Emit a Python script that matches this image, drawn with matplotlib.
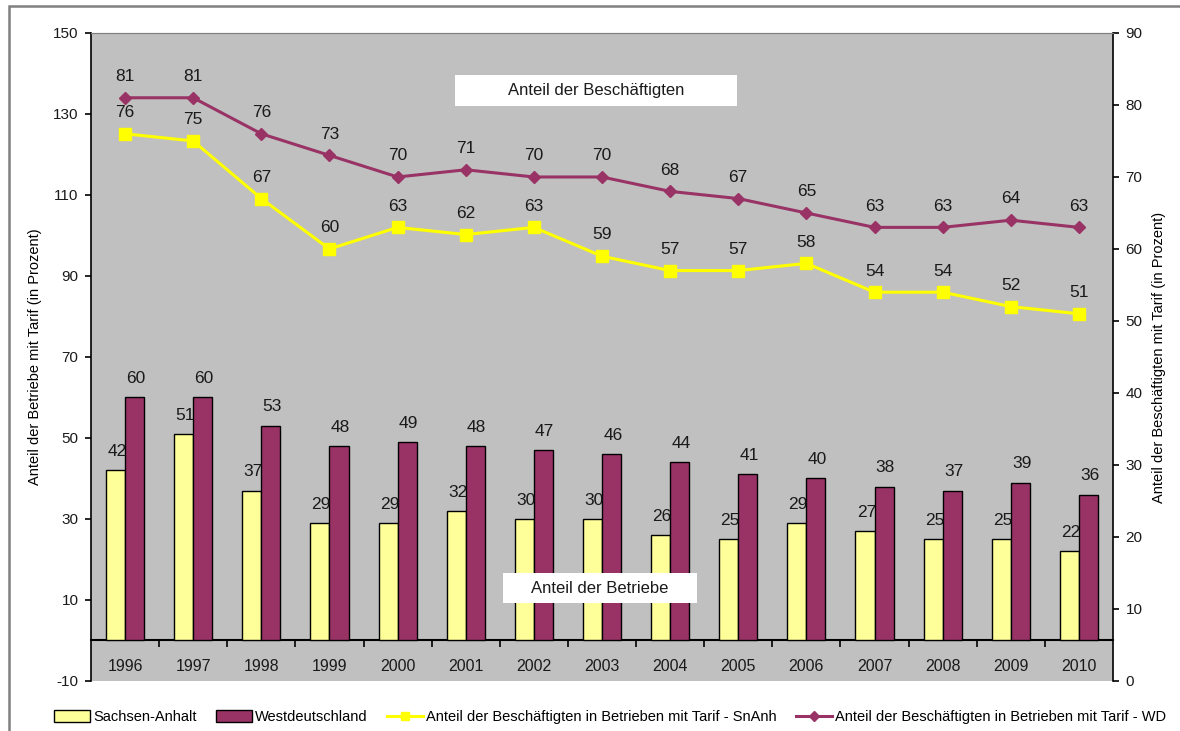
import matplotlib
matplotlib.use("Agg")
import matplotlib.pyplot as plt
from matplotlib.patches import Rectangle, Patch
from matplotlib.lines import Line2D
import numpy as np

plt.rcParams['font.family'] = ['Liberation Sans', 'DejaVu Sans']
plt.rcParams['axes.unicode_minus'] = False

years = ['1996', '1997', '1998', '1999', '2000', '2001', '2002', '2003',
         '2004', '2005', '2006', '2007', '2008', '2009', '2010']
betriebe_sa = [42, 51, 37, 29, 29, 32, 30, 30, 26, 25, 29, 27, 25, 25, 22]
betriebe_wd = [60, 60, 53, 48, 49, 48, 47, 46, 44, 41, 40, 38, 37, 39, 36]
beschaeft_sa = [76, 75, 67, 60, 63, 62, 63, 59, 57, 57, 58, 54, 54, 52, 51]
beschaeft_wd = [81, 81, 76, 73, 70, 71, 70, 70, 68, 67, 65, 63, 63, 64, 63]

c_yellow_bar = '#FFFF99'
c_purple = '#993366'
c_yellow_line = '#FFFF00'
bg = '#C0C0C0'
txt_c = '#1a1a1a'

fig = plt.figure(figsize=(11.8, 7.31), dpi=100)
ax = fig.add_axes([0.0771, 0.0684, 0.8661, 0.8865])
ax.set_facecolor(bg)

x = np.arange(len(years))
w = 0.28
ax.bar(x, betriebe_sa, width=-w, align='edge', color=c_yellow_bar,
       edgecolor='black', linewidth=1.0, zorder=2)
ax.bar(x, betriebe_wd, width=w, align='edge', color=c_purple,
       edgecolor='black', linewidth=1.0, zorder=2)

for xi, v in zip(x, betriebe_sa):
    ax.text(xi - w / 2 + 0.02, v + 2.8, str(v), ha='center', va='bottom',
            fontsize=12.5, color=txt_c, zorder=3)
for xi, v in zip(x, betriebe_wd):
    ax.text(xi + w / 2 + 0.02, v + 2.8, str(v), ha='center', va='bottom',
            fontsize=12.5, color=txt_c, zorder=3)

ax.set_xlim(-0.5, len(years) - 0.5)
ax.set_ylim(-10, 150)
ax.set_yticks(np.arange(-10, 151, 20))
ax.tick_params(axis='y', direction='out', length=4, width=1.2, labelsize=11,
               pad=5, labelcolor=txt_c)
ax.set_ylabel('Anteil der Betriebe mit Tarif (in Prozent)', fontsize=10.5,
              labelpad=8)

ax.spines['bottom'].set_visible(False)
ax.spines['top'].set_color('#808080')
ax.spines['left'].set_linewidth(1.2)
ax.spines['right'].set_visible(False)
ax.set_xticks([])

# category axis sitting on the zero line
sec = ax.secondary_xaxis(10 / 160)
sec.spines['bottom'].set_linewidth(1.5)
sec.set_xticks(x)
sec.set_xticklabels(years, fontsize=11.5, color=txt_c)
sec.set_xticks(np.arange(0.5, len(years) - 1, 1.0), minor=True)
sec.tick_params(axis='x', which='major', length=0, pad=13)
sec.tick_params(axis='x', which='minor', length=5, width=1.2, direction='out')

ax2 = ax.twinx()
ax2.set_ylim(0, 90)
ax2.set_yticks(np.arange(0, 91, 10))
ax2.tick_params(axis='y', direction='out', length=4, width=1.2, labelsize=11,
                pad=5, labelcolor=txt_c)
ax2.set_ylabel('Anteil der Beschäftigten mit Tarif (in Prozent)', fontsize=10.5,
               labelpad=7)
ax2.spines['right'].set_linewidth(1.2)
ax2.spines['top'].set_color('#808080')
ax2.spines['bottom'].set_visible(False)
ax2.spines['left'].set_visible(False)

ax2.plot(x, beschaeft_wd, color=c_purple, linewidth=2.2, marker='D',
         markersize=6, zorder=4)
ax2.plot(x, beschaeft_sa, color=c_yellow_line, linewidth=2.2, marker='s',
         markersize=8, zorder=4)

for xi, v in zip(x, beschaeft_wd):
    ax2.text(xi, v + 1.9, str(v), ha='center', va='bottom', fontsize=12.5,
             color=txt_c, zorder=5)
for xi, v in zip(x, beschaeft_sa):
    ax2.text(xi, v + 1.9, str(v), ha='center', va='bottom', fontsize=12.5,
             color=txt_c, zorder=5)

# white caption boxes
for (x0, y0, bw, bh, txt) in [
        (0.356, 0.887, 0.276, 0.048, 'Anteil der Beschäftigten'),
        (0.403, 0.120, 0.190, 0.047, 'Anteil der Betriebe')]:
    ax2.add_patch(Rectangle((x0, y0), bw, bh, transform=ax2.transAxes,
                            facecolor='white', edgecolor='none', zorder=6))
    ax2.text(x0 + bw / 2, y0 + bh / 2, txt, transform=ax2.transAxes,
             ha='center', va='center', fontsize=12, color=txt_c,
             zorder=7)

handles = [
    Patch(facecolor=c_yellow_bar, edgecolor='black', linewidth=1.0),
    Patch(facecolor=c_purple, edgecolor='black', linewidth=1.0),
    Line2D([], [], color=c_yellow_line, linewidth=2.2, marker='s', markersize=6),
    Line2D([], [], color=c_purple, linewidth=2.2, marker='D', markersize=5),
]
labels = ['Sachsen-Anhalt', 'Westdeutschland',
          'Anteil der Beschäftigten in Betrieben mit Tarif - SnAnh',
          'Anteil der Beschäftigten in Betrieben mit Tarif - WD']
fig.legend(handles, labels, loc='center', bbox_to_anchor=(0.517, 0.019),
           ncol=4, frameon=False, fontsize=10.5, handlelength=2.5,
           handleheight=0.9, handletextpad=0.2, columnspacing=1.3)

# outer frame
fig.add_artist(Rectangle((9 / 1180, -0.05), 1.1, 1 - 6 / 731 + 0.05,
                         transform=fig.transFigure, fill=False,
                         edgecolor='#808080', linewidth=1.8))

fig.savefig('out.png', dpi=100)
